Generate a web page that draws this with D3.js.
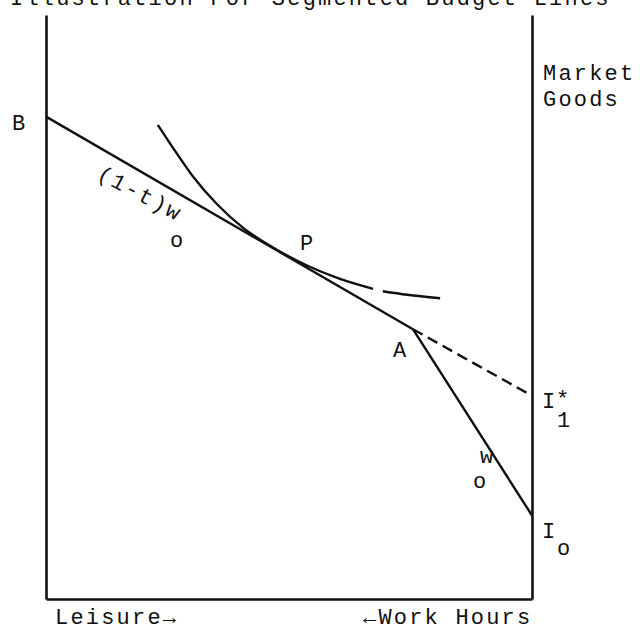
<!DOCTYPE html>
<html><head><meta charset="utf-8">
<script src="https://cdn.jsdelivr.net/npm/d3@7"></script>
<style>
html,body{margin:0;padding:0;background:#fff;}
svg{display:block;}
text{font-family:"Liberation Mono",monospace;font-size:22px;fill:#111;letter-spacing:2.2px;}
</style>
</head><body>
<svg id="c" width="640" height="633"></svg>
<script>
// ---- data ----
const title = "Illustration For Segmented Budget Lines";
const xAxisLabels = ["Leisure\u2192", "\u2190Work Hours"];
const yAxisLabel = ["Market", "Goods"];
const pointLabels = ["B", "P", "A"];
// budget segments [leisure, goods] in 0..100 units
const segNet = [[0, 82.6], [75.5, 46.2]];        // B -> A, slope (1-t)w0
const segGross = [[75.5, 46.2], [100, 14.3]];    // A -> I0, slope w0
const segDashed = [[75.5, 46.2], [100, 34.8]];   // A -> I1*
// indifference curve (two pieces, small gap)
const indiffA = [[23.0, 81.2], [26.1, 77.3], [30.2, 72.4], [35.2, 67.6], [40.5, 63.6],
                 [46.7, 60.2], [53.7, 57.1], [60.5, 54.8], [67.3, 53.1]];
const indiffB = [[69.3, 52.7], [74.3, 52.1], [81.1, 51.5]];

// ---- drawing ----
const svg = d3.select("#c");
const x = d3.scaleLinear().domain([0, 100]).range([46, 532]);
const y = d3.scaleLinear().domain([0, 100]).range([599, 15]);
const ink = "#111";

// axes (frame)
const axL = d3.axisLeft(y).tickValues([]).tickSizeOuter(0);
const axR = d3.axisRight(y).tickValues([]).tickSizeOuter(0);
const axB = d3.axisBottom(x).tickValues([]).tickSizeOuter(0);
[[axL, `translate(${x(0)},0)`], [axR, `translate(${x(100)},0)`], [axB, `translate(0,${y(0)})`]]
  .forEach(([a, t]) => {
    const g = svg.append("g").attr("transform", t).call(a);
    g.select(".domain").attr("stroke", ink).attr("stroke-width", 2.6);
  });

const line = d3.line().x(d => x(d[0])).y(d => y(d[1]));
const curve = d3.line().x(d => x(d[0])).y(d => y(d[1])).curve(d3.curveMonotoneX);

svg.append("path").attr("d", line(segNet)).attr("fill", "none").attr("stroke", ink).attr("stroke-width", 2.4);
svg.append("path").attr("d", line(segGross)).attr("fill", "none").attr("stroke", ink).attr("stroke-width", 2.4);
svg.append("path").attr("d", line(segDashed)).attr("fill", "none").attr("stroke", ink).attr("stroke-width", 2.4)
  .attr("stroke-dasharray", "11,6");
[indiffA, indiffB].forEach(p =>
  svg.append("path").attr("d", curve(p)).attr("fill", "none").attr("stroke", ink).attr("stroke-width", 2.4));

// texts
svg.append("text").attr("x", 10).attr("y", 5).text(title);
svg.append("text").attr("x", 55).attr("y", 624).text(xAxisLabels[0]);
svg.append("text").attr("x", 363).attr("y", 624).text(xAxisLabels[1]);
svg.append("text").attr("x", 543).attr("y", 80).text(yAxisLabel[0]);
svg.append("text").attr("x", 543).attr("y", 106).text(yAxisLabel[1]);

svg.append("text").attr("x", x(segNet[0][0]) - 34).attr("y", y(segNet[0][1]) + 13).text(pointLabels[0]);
svg.append("text").attr("x", 300).attr("y", 250).text(pointLabels[1]);
svg.append("text").attr("x", x(segNet[1][0]) - 20).attr("y", y(segNet[1][1]) + 28).text(pointLabels[2]);

// slope labels
svg.append("text").attr("transform", "translate(96,178) rotate(28)").text("(1-t)w");
svg.append("text").attr("x", 170).attr("y", 247).text("o");
svg.append("text").attr("x", 480).attr("y", 463).text("w");
svg.append("text").attr("x", 473).attr("y", 488).text("o");

// intercept labels
svg.append("text").attr("x", 542).attr("y", 408).text("I");
svg.append("text").attr("x", 556).attr("y", 406).text("*");
svg.append("text").attr("x", 557).attr("y", 427).text("1");
svg.append("text").attr("x", 542).attr("y", 538).text("I");
svg.append("text").attr("x", 557).attr("y", 555).text("o");
</script>
</body></html>
